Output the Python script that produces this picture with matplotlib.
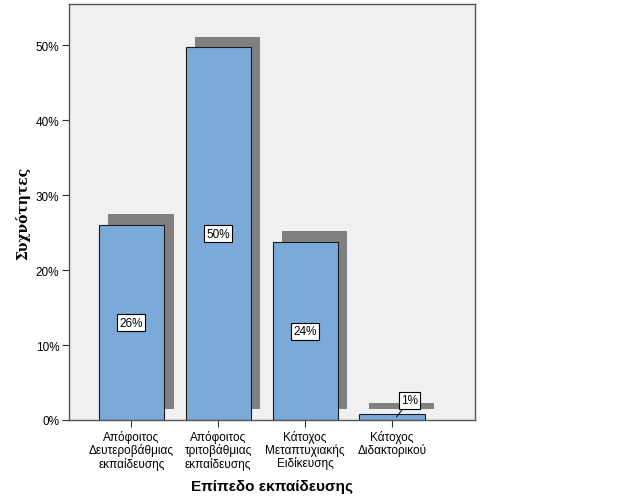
import numpy as np
import matplotlib.pyplot as plt

plt.rcParams['font.family'] = ['Liberation Sans', 'DejaVu Sans']

categories = ['Απόφοιτος\nΔευτεροβάθμιας\nεκπαίδευσης',
              'Απόφοιτος\nτριτοβάθμιας\nεκπαίδευσης',
              'Κάτοχος\nΜεταπτυχιακής\nΕιδίκευσης',
              'Κάτοχος\nΔιδακτορικού']
percents = [26.0, 49.7, 23.7, 0.8]
value_labels = ['26%', '50%', '24%', '1%']
yticks = [0, 10, 20, 30, 40, 50]
ytick_labels = ['0%', '10%', '20%', '30%', '40%', '50%']

fig = plt.figure(figsize=(6.27, 5.02), dpi=100)
ax = fig.add_axes([0.110, 0.1614, 0.6475, 0.8287])
ax.set_facecolor('#f0f0f0')

x = np.arange(len(categories))
width = 0.75
dx, dy = 0.11, 1.45

# drop shadow behind each bar
ax.bar(x + dx, percents, width, bottom=dy, color='#808080', zorder=1)
ax.bar(x, percents, width, color='#7aaad7', edgecolor='#1a1a1a', linewidth=0.8, zorder=2)

box = dict(boxstyle='square,pad=0.2', fc='white', ec='black', lw=0.8)
for i, (v, lab) in enumerate(zip(percents, value_labels)):
    if v > 5:
        ax.text(i, v / 2, lab, ha='center', va='center', fontsize=8.5, bbox=box, zorder=4)
    else:
        ax.annotate(lab, xy=(i + 0.05, v / 2), xytext=(i + 0.2, 2.6),
                    ha='center', va='center', fontsize=8.5, bbox=box, zorder=4,
                    arrowprops=dict(arrowstyle='-', color='black', lw=0.7,
                                    shrinkA=0, shrinkB=0))

ax.set_xlim(-0.718, 3.954)
ax.set_ylim(0, 55.5)
ax.set_xticks(x)
ax.set_xticklabels(categories, fontsize=8.5, linespacing=1.05)
ax.set_yticks(yticks)
ax.set_yticklabels(ytick_labels, fontsize=8.5)
ax.tick_params(direction='out', length=5, width=0.8, color='#333333', pad=2)

for s in ax.spines.values():
    s.set_color('#555555')
    s.set_linewidth(1.0)

ax.set_xlabel('Επίπεδο εκπαίδευσης', fontsize=11, fontweight='bold', labelpad=7)
ax.set_ylabel('Συχνότητες', fontsize=10, fontweight='bold', family='DejaVu Serif', labelpad=4)

fig.savefig('out.png', dpi=100, facecolor='white')
